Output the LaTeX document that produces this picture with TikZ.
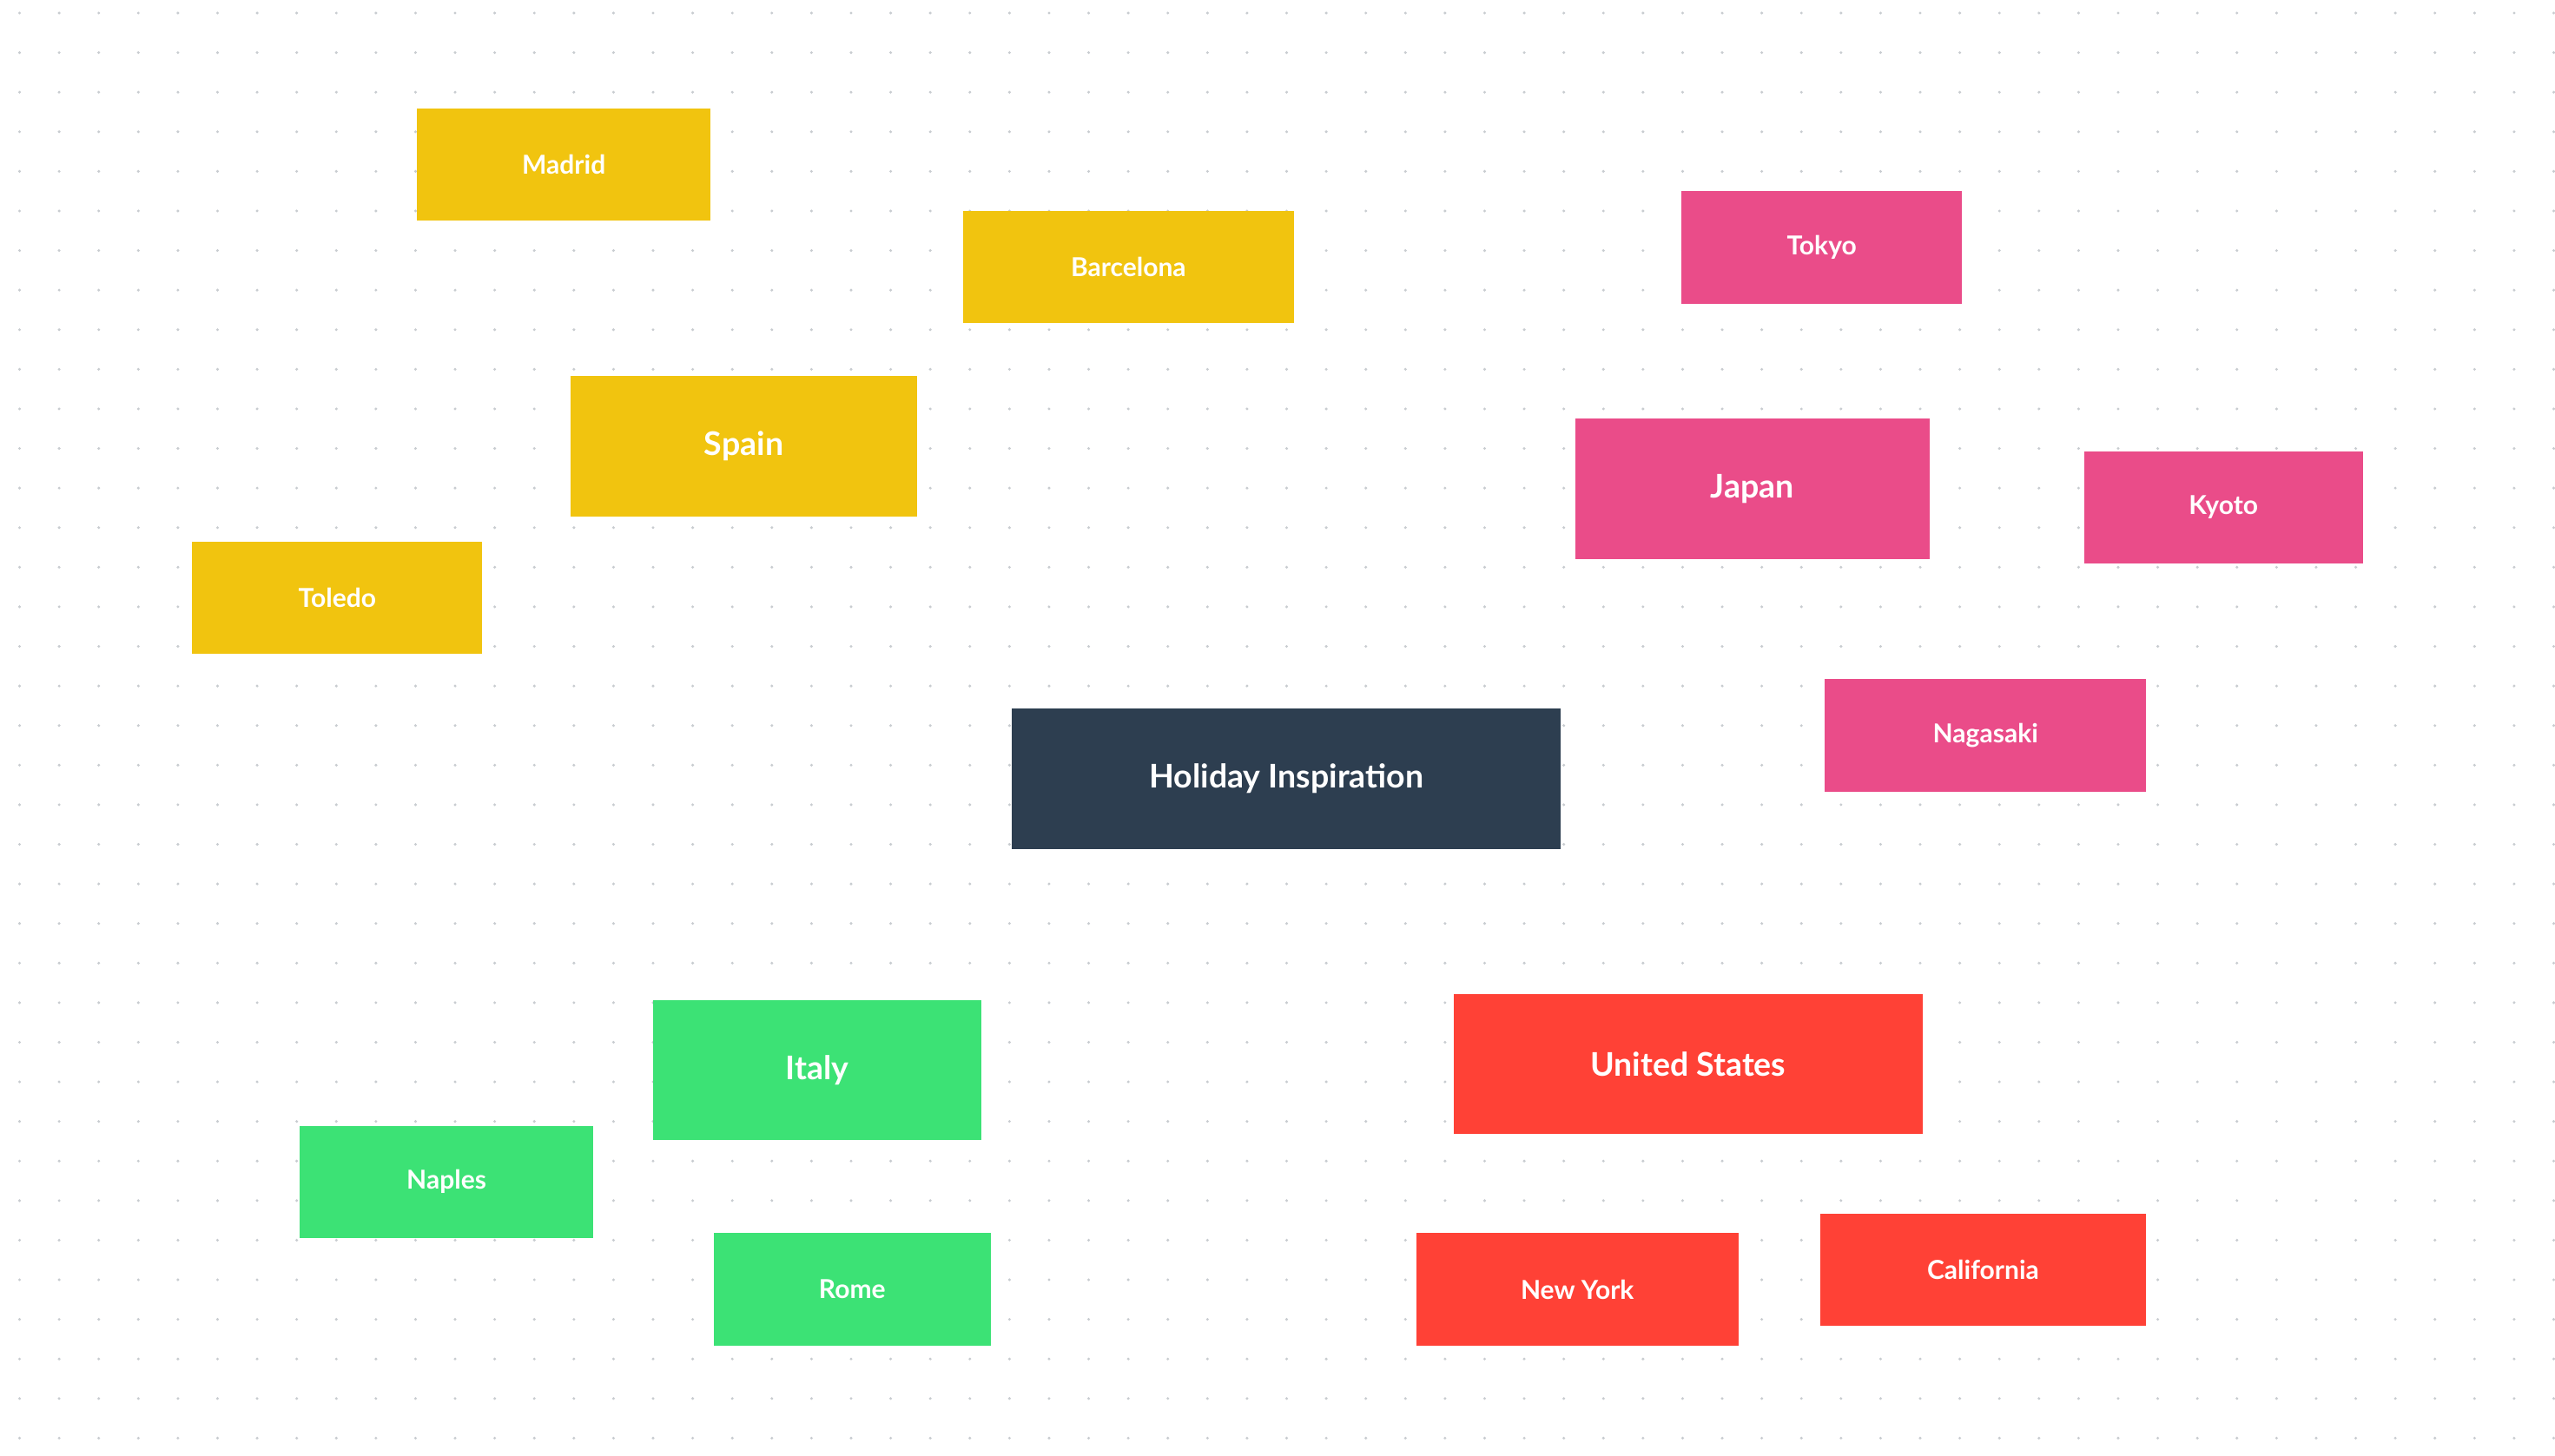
\documentclass[tikz,border=0pt]{standalone}
\usepackage{fontspec}
\setmainfont{Lato}
\usetikzlibrary{backgrounds}
\definecolor{hubcol}{HTML}{2D3E50}
\definecolor{spaincol}{HTML}{F1C40F}
\definecolor{japancol}{HTML}{EA4C89}
\definecolor{italycol}{HTML}{3CE275}
\definecolor{usacol}{HTML}{FF4136}
\definecolor{dotcol}{HTML}{C8CCD0}
\tikzset{
	place/.style={rectangle,text=white,font=\bfseries\fontsize{8}{10}\selectfont,minimum height=34.5pt,inner sep=0pt},
	country/.style={place,font=\bfseries\fontsize{10}{12}\selectfont,minimum height=43pt},
	link/.style={draw=hubcol,line width=1.1pt}
}
\begin{document}
\begin{tikzpicture}[x=0.5pt,y=-0.5pt]
	\useasboundingbox[fill=white] (0,0) rectangle (1568,893.3);
	\foreach \i in {0,...,64}
		\foreach \j in {0,...,36}
			\fill[dotcol] (12+24.3*\i,8+24.3*\j) circle (0.45pt);
	\node[place,fill=hubcol,minimum width=168.5pt,minimum height=43pt,font=\bfseries\fontsize{10}{12}\selectfont] (hub) at (789.5,478) {Holiday Inspiration};
	% Spain
	\node[country,fill=spaincol,minimum width=106.5pt] (spain) at (456.5,274) {Spain};
	\node[place,fill=spaincol,minimum width=90pt] (madrid) at (346,101) {Madrid};
	\node[place,fill=spaincol,minimum width=101.5pt] (barcelona) at (692.5,164) {Barcelona};
	\node[place,fill=spaincol,minimum width=89pt] (toledo) at (207,367) {Toledo};
	% Japan
	\node[country,fill=japancol,minimum width=108.5pt] (japan) at (1075.5,300) {Japan};
	\node[place,fill=japancol,minimum width=86pt] (tokyo) at (1118,152) {Tokyo};
	\node[place,fill=japancol,minimum width=85.5pt] (kyoto) at (1364.5,311.5) {Kyoto};
	\node[place,fill=japancol,minimum width=98.5pt] (nagasaki) at (1218.5,451.5) {Nagasaki};
	% Italy
	\node[country,fill=italycol,minimum width=100.5pt] (italy) at (501.5,657) {Italy};
	\node[place,fill=italycol,minimum width=90pt] (naples) at (274,725.5) {Naples};
	\node[place,fill=italycol,minimum width=85pt] (rome) at (523,791.5) {Rome};
	% United States
	\node[country,fill=usacol,minimum width=144pt] (usa) at (1036,653) {United States};
	\node[place,fill=usacol,minimum width=99pt] (newyork) at (968,791.5) {New York};
	\node[place,fill=usacol,minimum width=100pt] (california) at (1217,779.5) {California};
	\begin{scope}[on background layer]
		\foreach \a/\b in {hub/spain,hub/japan,hub/italy,hub/usa,
			spain/madrid,spain/barcelona,spain/toledo,
			japan/tokyo,japan/kyoto,japan/nagasaki,
			italy/naples,italy/rome,
			usa/newyork,usa/california}
			\draw[link] (\a) -- (\b);
	\end{scope}
\end{tikzpicture}
\end{document}
